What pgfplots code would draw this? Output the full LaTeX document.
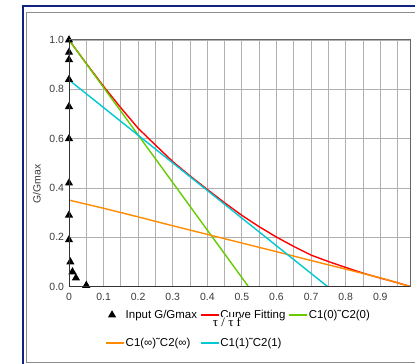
\documentclass[border=0pt]{standalone}
\usepackage{fontspec}
\setmainfont{Liberation Sans}
\newfontfamily\seriffont{Liberation Serif}
\usepackage{pgfplots}
\pgfplotsset{compat=1.18}

\definecolor{frameblue}{RGB}{16,36,130}
\definecolor{framegray}{RGB}{140,140,140}
\definecolor{gridgray}{RGB}{176,176,176}
\definecolor{ticktext}{RGB}{60,60,60}
\definecolor{fitred}{RGB}{255,0,0}
\definecolor{cgreen}{RGB}{102,204,0}
\definecolor{corange}{RGB}{255,140,0}
\definecolor{ccyan}{RGB}{0,200,210}

\pgfplotsset{
  trilegend/.style={legend image code/.code={\draw[##1] plot coordinates {(6bp,0bp)};}},
}

\begin{document}
\begin{tikzpicture}[x=1bp,y=1bp]
\useasboundingbox (0,0) rectangle (415,364);
\clip (0,0) rectangle (415,364);
\fill[white] (0,0) rectangle (415,364);
% window frames
\draw[frameblue, line width=2bp] (22.5,357.5) rectangle (460,-30);
\draw[framegray, line width=1bp] (26.5,351.5) rectangle (460,2);

\begin{axis}[
  at={(69bp,77.3bp)}, anchor=south west,
  scale only axis, width=341.7bp, height=246.7bp,
  xmin=0, xmax=0.988, ymin=0, ymax=1,
  xtick={0,0.1,0.2,0.3,0.4,0.5,0.6,0.7,0.8,0.9},
  xticklabels={0,0.1,0.2,0.3,0.4,0.5,0.6,0.7,0.8,0.9},
  minor xtick={0.05,0.15,0.25,0.35,0.45,0.55,0.65,0.75,0.85,0.95},
  ytick={0,0.2,0.4,0.6,0.8,1.0},
  yticklabels={0.0,0.2,0.4,0.6,0.8,1.0},
  grid=both,
  major grid style={gridgray, line width=0.9bp},
  minor grid style={gridgray, line width=0.9bp},
  axis line style={draw=none},
  major tick length=0pt, minor tick length=0pt,
  tick label style={font=\fontsize{10.5}{11}\selectfont, text=ticktext},
  xticklabel style={yshift=-2.5bp},
  yticklabel style={xshift=-1.5bp},
  legend columns=3,
  legend cell align=left,
  legend style={
    at={(0.097,-0.082)}, anchor=north west,
    draw=none, fill=none,
    font=\fontsize{11.5}{12}\selectfont,
    row sep=16bp,
    nodes={inner xsep=1bp, inner ysep=1bp},
    /tikz/every even column/.append style={column sep=2bp},
  },
  legend image code/.code={\draw[#1] (0bp,0bp) -- (18bp,0bp);},
  every axis plot/.append style={line width=1.4bp},
]

% measured points
\addplot[only marks, mark=triangle*, mark size=3.4bp, black, trilegend]
  coordinates {
  (0,1.0) (0,0.95) (0,0.92) (0,0.84) (0,0.73) (0,0.60) (0,0.42)
  (0,0.29) (0,0.19) (0.004,0.10) (0.010,0.06) (0.020,0.035) (0.050,0.005)
};
\addlegendentry{Input G/Gmax}

% fitted curve
\addplot[fitred] coordinates {
  (0,1.0) (0.05,0.905) (0.10,0.812) (0.15,0.725) (0.20,0.642)
  (0.25,0.574) (0.30,0.507) (0.35,0.449) (0.40,0.394) (0.45,0.340)
  (0.50,0.289) (0.55,0.243) (0.60,0.201) (0.65,0.163) (0.70,0.128)
  (0.75,0.102) (0.80,0.078) (0.85,0.055) (0.90,0.035) (0.95,0.016)
  (0.988,0.0)
};
\addlegendentry{Curve Fitting}

\addplot[cgreen] coordinates {(0,1.0) (0.519,0.0)};
\addlegendentry{C1(0)˜C2(0)}

\addplot[corange] coordinates {
  (0,0.351) (0.1,0.318) (0.2,0.283) (0.3,0.247) (0.4,0.212)
  (0.5,0.177) (0.6,0.142) (0.7,0.106) (0.8,0.071) (0.9,0.036) (0.988,0.0)
};
\addlegendentry{C1(∞)˜C2(∞)}

\addplot[ccyan] coordinates {(0,0.838) (0.748,0.0)};
\addlegendentry{C1(1)˜C2(1)}

\end{axis}

% plot frame: dark left and bottom, lighter top and right
\draw[black!80, line width=1bp] (69,324) -- (69,77.3) -- (410.7,77.3);
\draw[black!60, line width=1bp] (69,324) -- (410.7,324) -- (410.7,77.3);

\node[rotate=90, font=\fontsize{10.5}{11}\selectfont, text=ticktext] at (37,180) {G/Gmax};
\node[fill=white, inner sep=1bp, font=\seriffont\fontsize{13}{14}\selectfont] at (227,41.5) {τ / τ f};
\end{tikzpicture}
\end{document}
